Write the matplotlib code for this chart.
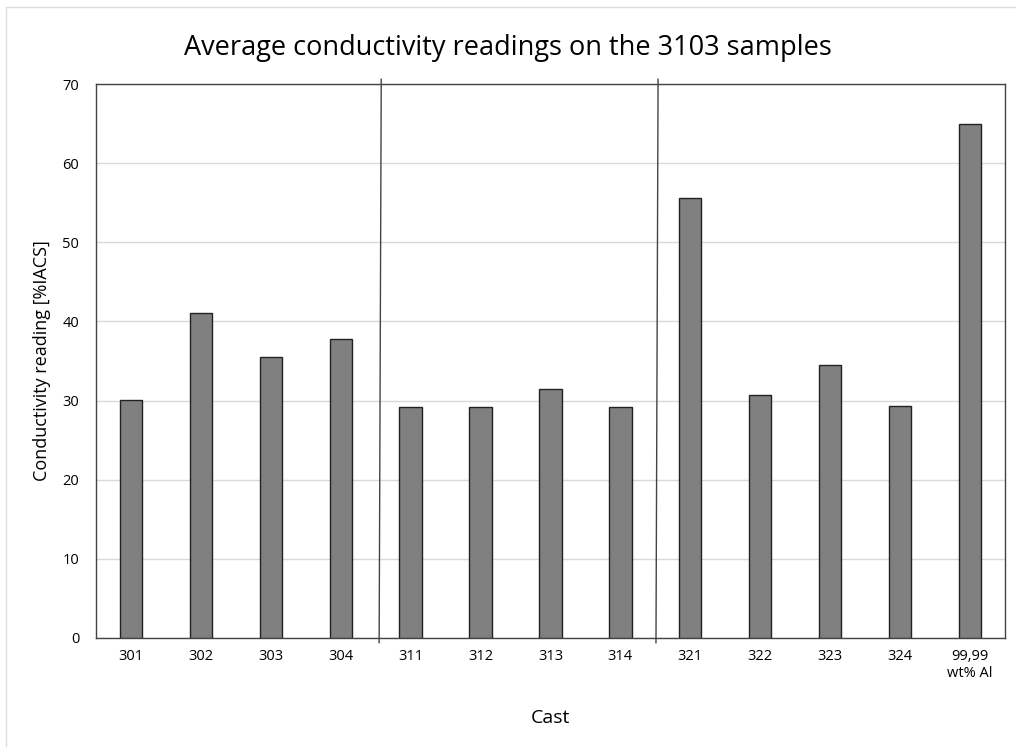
import matplotlib.pyplot as plt
import numpy as np
from matplotlib.patches import Rectangle

# data
casts = ['301', '302', '303', '304', '311', '312', '313', '314',
         '321', '322', '323', '324', '99,99\nwt% Al']
conductivity = [30.1, 41.1, 35.5, 37.8, 29.2, 29.2, 31.5, 29.2,
                55.6, 30.7, 34.5, 29.3, 65.0]
y_ticks = [0, 10, 20, 30, 40, 50, 60, 70]
# group separators (slightly slanted, hand drawn in the original)
separators = [(3.55, 3.58), (7.51, 7.54)]

plt.rcParams['font.family'] = ['Open Sans', 'DejaVu Sans']

fig = plt.figure(figsize=(10.16, 7.47), dpi=100)
ax = fig.add_axes([0.0945, 0.146, 0.8945, 0.7415])

x = np.arange(len(casts))
ax.bar(x, conductivity, width=0.32, color='#808080', edgecolor='#222222',
       linewidth=1.0, zorder=3)

ax.set_xlim(-0.5, len(casts) - 0.5)
ax.set_ylim(0, 70)
ax.set_yticks(y_ticks)
ax.set_xticks(x)
ax.set_xticklabels(casts, fontsize=10.5)
ax.tick_params(axis='y', labelsize=10.5, length=0, pad=12)
ax.tick_params(axis='x', length=0, pad=8)
ax.grid(axis='y', color='#d9d9d9', linewidth=1.0, zorder=0)

for sp in ax.spines.values():
    sp.set_color('#444444')
    sp.set_linewidth(1.0)

for bottom_x, top_x in separators:
    ax.plot([bottom_x, top_x], [-0.6, 70.6], color='#444444', lw=1.0,
            clip_on=False, zorder=4)

ax.set_ylabel('Conductivity reading [%IACS]', fontsize=13, labelpad=8)
ax.set_xlabel('Cast', fontsize=14, labelpad=20)
fig.suptitle('Average conductivity readings on the 3103 samples', fontsize=19.5,
             y=0.955)

# faint outer frame of the spreadsheet chart
fig.patches.append(Rectangle((0.006, -0.01), 1.1, 1.0, transform=fig.transFigure,
                             fill=False, edgecolor='#dddddd', lw=1.0))

fig.savefig('out.png', dpi=100)
